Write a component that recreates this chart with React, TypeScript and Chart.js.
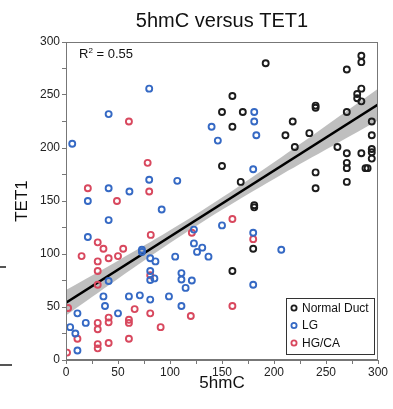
import React, { useEffect, useRef } from "react";
import { Chart, registerables } from "chart.js";

Chart.register(...registerables);

const FONT = "'Liberation Sans', Arial, sans-serif";
const titleText = "5hmC versus TET1";
const xTitle = "5hmC";
const yTitle = "TET1";
const r2Label = "R";
const r2Value = " = 0.55";
const seriesNames = ["Normal Duct", "LG", "HG/CA"];
const seriesColors = ["#1c1c1c", "#3569c4", "#d8485e"];

const normalX = [192, 160, 150, 170, 160, 284, 284, 270, 284, 280, 280, 284, 240, 240, 270, 218, 294, 211, 234, 294, 220, 261, 270, 284, 294, 294, 294, 270, 270, 288, 290, 240, 270, 240, 150, 168, 181, 181, 180, 160];
const normalY = [280, 249, 234, 234, 220, 287, 281, 274, 256, 251, 247, 244, 240, 238, 234, 225, 225, 212, 214, 212, 201, 201, 195, 195, 199, 196, 190, 186, 181, 181, 181, 177, 168, 162, 183, 168, 146, 144, 105, 84];

const lgX = [181, 181, 140, 146, 183, 207, 180, 107, 92, 123, 150, 180, 123, 131, 126, 137, 105, 111, 111, 121, 115, 99, 111, 180, 6, 80, 41, 61, 21, 41, 21, 73, 73, 81, 86, 81, 81, 85, 41, 36, 37.5, 60.5, 71, 81, 50, 11, 19, 4, 9, 11, 80, 41];
const lgY = [234, 225, 220, 207, 212, 104, 180, 169, 142, 123, 127, 120, 110, 106, 102, 97.5, 97.5, 82, 76, 75, 68, 60, 51, 71, 204, 170, 162, 159, 150, 132, 116, 104, 102, 96, 93, 84, 75.5, 77, 74.5, 60, 51, 60, 61, 57, 44, 44, 35, 31, 25, 9, 256, 232];

const hgX = [160, 121, 180, 160, 120, 91, 78.5, 80, 21, 49, 30.5, 36, 55, 81.5, 15, 30.5, 30.5, 30.5, 41, 50, 81, 66, 81, 30.5, 30.5, 41, 41, 60.5, 60.5, 11, 60.5, 30.5, 30.5, 41, 1, 2, 60.5];
const hgY = [133, 120, 114, 51, 41.5, 31, 186, 159, 162, 150, 111, 105, 105, 118, 98, 93, 84, 71, 96, 98, 80, 48, 44, 35, 29, 40, 35.5, 38, 35, 20, 20, 15, 11, 16, 7, 49, 225];

const fitX = [0, 300];
const fitY = [54, 241];
const bandX = [0, 50, 100, 150, 200, 250, 300];
const bandUpper = [66, 93.7, 122.3, 153.3, 186.6, 221.1, 256];
const bandLower = [42, 76.7, 110.3, 141.7, 170.8, 198.5, 226];

const xTicks = [0, 50, 100, 150, 200, 250, 300];
const yTicks = [0, 50, 100, 150, 200, 250, 300];

const zip = (xs: number[], ys: number[]) => xs.map((x, i) => ({ x, y: ys[i] }));

const framePlugin = {
  id: "frame",
  afterDatasetsDraw(chart: any) {
    const { ctx, chartArea: a } = chart;
    ctx.save();
    ctx.strokeStyle = "#777";
    ctx.lineWidth = 1;
    ctx.strokeRect(a.left + 0.5, a.top + 0.5, a.right - a.left - 1, a.bottom - a.top - 1);
    // R^2 label
    ctx.fillStyle = "#111";
    ctx.textBaseline = "alphabetic";
    ctx.textAlign = "left";
    ctx.font = `13px ${FONT}`;
    const x0 = a.left + 13;
    const y0 = a.top + 16;
    ctx.fillText(r2Label, x0, y0);
    const w1 = ctx.measureText(r2Label).width;
    ctx.font = `8px ${FONT}`;
    ctx.fillText("2", x0 + w1, y0 - 5);
    const w2 = ctx.measureText("2").width;
    ctx.font = `13px ${FONT}`;
    ctx.fillText(r2Value, x0 + w1 + w2, y0);
    // inset legend
    const bw = 88, bh = 56;
    const bx = a.right - 4 - bw;
    const by = a.bottom - 6 - bh;
    ctx.fillStyle = "#fff";
    ctx.fillRect(bx, by, bw, bh);
    ctx.strokeStyle = "#333";
    ctx.lineWidth = 1;
    ctx.strokeRect(bx + 0.5, by + 0.5, bw, bh);
    ctx.font = `12px ${FONT}`;
    ctx.textBaseline = "middle";
    seriesNames.forEach((name, i) => {
      const cy = by + 10 + i * 17.5;
      ctx.beginPath();
      ctx.arc(bx + 8, cy, 2.6, 0, Math.PI * 2);
      ctx.strokeStyle = seriesColors[i];
      ctx.lineWidth = 1.8;
      ctx.stroke();
      ctx.fillStyle = "#111";
      ctx.fillText(name, bx + 16, cy + 0.5);
    });
    ctx.restore();
  },
};

export default function App() {
  const ref = useRef<HTMLCanvasElement>(null);
  useEffect(() => {
    if (!ref.current) return;
    const pointDs = (label: string, xs: number[], ys: number[], color: string) => ({
      type: "scatter" as const,
      label,
      data: zip(xs, ys),
      borderColor: color,
      backgroundColor: "rgba(0,0,0,0)",
      pointRadius: 3,
      pointBorderWidth: 1.9,
      showLine: false,
      order: 0,
    });
    const chart = new Chart(ref.current, {
      type: "scatter",
      data: {
        datasets: [
          {
            type: "line",
            label: "band-lower",
            data: zip(bandX, bandLower),
            borderWidth: 0,
            pointRadius: 0,
            fill: false,
            tension: 0.4,
            order: 3,
          } as any,
          {
            type: "line",
            label: "band-upper",
            data: zip(bandX, bandUpper),
            borderWidth: 0,
            pointRadius: 0,
            backgroundColor: "rgba(170,170,170,0.75)",
            fill: "-1",
            tension: 0.4,
            order: 2,
          } as any,
          {
            type: "line",
            label: "fit",
            data: zip(fitX, fitY),
            borderColor: "#000",
            borderWidth: 2.6,
            pointRadius: 0,
            fill: false,
            order: 1,
          } as any,
          pointDs(seriesNames[0], normalX, normalY, seriesColors[0]),
          pointDs(seriesNames[1], lgX, lgY, seriesColors[1]),
          pointDs(seriesNames[2], hgX, hgY, seriesColors[2]),
        ],
      },
      options: {
        responsive: false,
        animation: false,
        layout: { padding: { left: 0, right: 15, top: 0, bottom: 0 } },
        plugins: {
          legend: { display: false },
          tooltip: { enabled: false },
          title: {
            display: true,
            text: titleText,
            fullSize: false,
            color: "#111",
            font: { family: FONT, size: 20, weight: "normal" },
            padding: { top: 9, bottom: 9 },
          },
        },
        scales: {
          x: {
            type: "linear",
            min: 0,
            max: 300,
            afterBuildTicks: (s: any) => {
              const t: any[] = [];
              for (let v = 0; v <= 300; v += 25) t.push({ value: v });
              s.ticks = t;
            },
            afterFit: (s: any) => { s.height = 49; },
            ticks: {
              autoSkip: false,
              maxRotation: 0,
              padding: 1,
              color: "#222",
              font: { family: FONT, size: 12 },
              callback: (v: any) => (xTicks.includes(Number(v)) ? String(v) : ""),
            },
            grid: { drawOnChartArea: false, drawTicks: true, tickLength: 4, color: "#777" },
            border: { color: "#777", width: 1 },
            title: {
              display: true,
              text: xTitle,
              color: "#111",
              font: { family: FONT, size: 17 },
              padding: { top: 0, bottom: 15 },
            },
          },
          y: {
            type: "linear",
            min: 0,
            max: 300,
            afterBuildTicks: (s: any) => {
              const t: any[] = [];
              for (let v = 0; v <= 300; v += 25) t.push({ value: v });
              s.ticks = t;
            },
            afterFit: (s: any) => { s.width = 66; },
            ticks: {
              autoSkip: false,
              padding: 2,
              color: "#222",
              font: { family: FONT, size: 12 },
              callback: (v: any) => (yTicks.includes(Number(v)) ? String(v) : ""),
            },
            grid: { drawOnChartArea: false, drawTicks: true, tickLength: 4, color: "#777" },
            border: { color: "#777", width: 1 },
            title: {
              display: true,
              text: yTitle,
              color: "#111",
              font: { family: FONT, size: 17 },
              padding: { top: 12, bottom: 0 },
            },
          },
        },
      } as any,
      plugins: [framePlugin],
    });
    return () => chart.destroy();
  }, []);
  return (
    <div style={{ position: "absolute", left: 0, top: 0, width: 393, height: 409, background: "#fff" }}>
      <canvas ref={ref} width={393} height={409} style={{ display: "block" }} />
      <div style={{ position: "absolute", left: 0, top: 266, width: 6, height: 2, background: "#555" }} />
      <div style={{ position: "absolute", left: 0, top: 364, width: 12, height: 2, background: "#555" }} />
    </div>
  );
}
